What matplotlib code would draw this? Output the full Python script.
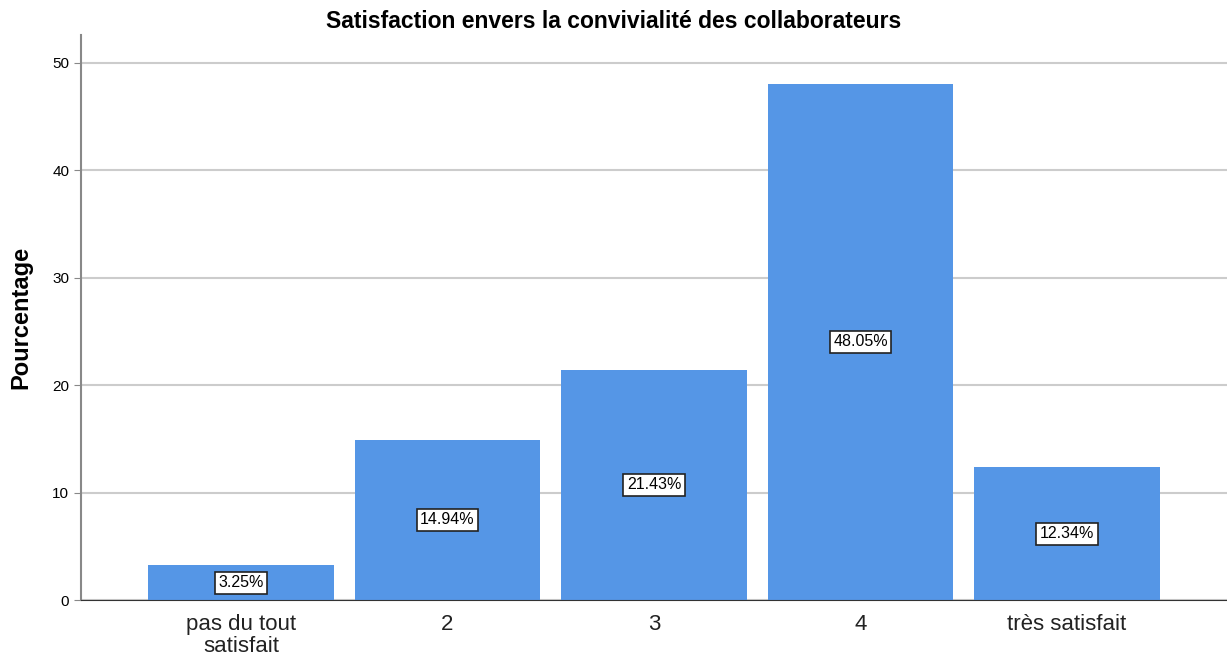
import matplotlib.pyplot as plt
import numpy as np

plt.rcParams['font.family'] = ['Liberation Sans', 'DejaVu Sans']

categories = ['pas du tout\nsatisfait', '2', '3', '4', 'très satisfait']
percentages = [3.25, 14.94, 21.43, 48.05, 12.34]

fig = plt.figure(figsize=(12.27, 6.59), dpi=100)
ax = fig.add_axes([0.066, 0.0895, 0.934, 0.8575])

x = np.arange(len(categories))
ax.bar(x, percentages, width=0.9, color='#5596e6', zorder=2)

for xi, p in zip(x, percentages):
    ax.text(xi, p / 2, "{:.2f}%".format(p), ha='center', va='center', fontsize=11.5,
            zorder=3,
            bbox=dict(boxstyle='square,pad=0.22', facecolor='white', edgecolor='#222222', linewidth=1.2))

ax.set_xlim(-0.775, 4.775)
ax.set_ylim(0, 52.6)
ax.set_yticks([0, 10, 20, 30, 40, 50])
ax.set_xticks(x)
ax.set_xticklabels(categories, fontsize=16, color='#222222', linespacing=1.05)
ax.tick_params(axis='y', labelsize=11, length=5, color='#888888')
ax.tick_params(axis='x', length=0, pad=10)

ax.grid(axis='y', color='#cccccc', linewidth=1.5, zorder=0)
ax.set_axisbelow(True)
ax.spines['top'].set_visible(False)
ax.spines['right'].set_visible(False)
ax.spines['left'].set_color('#888888')
ax.spines['left'].set_linewidth(1.5)
ax.spines['bottom'].set_color('#333333')

fig.suptitle('Satisfaction envers la convivialité des collaborateurs', fontsize=16.5,
             fontweight='bold', x=0.5, y=0.968, va='center')
ax.set_ylabel('Pourcentage', fontsize=17, fontweight='bold', labelpad=14)

plt.savefig('out.png', dpi=100)
